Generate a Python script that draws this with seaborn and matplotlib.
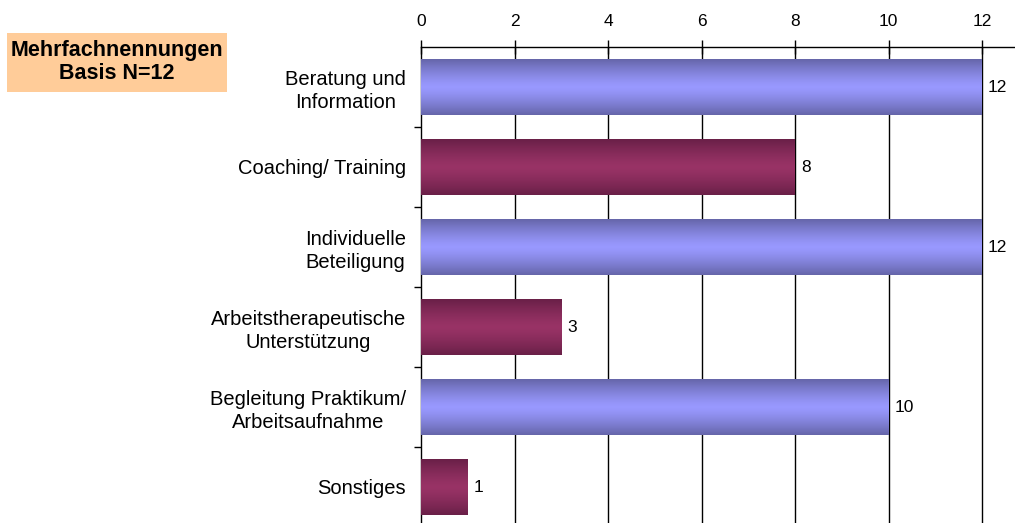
import numpy as np
import pandas as pd
import seaborn as sns
import matplotlib.pyplot as plt
from matplotlib.colors import to_rgb
from matplotlib.patches import Rectangle

# Daten aus dem Diagramm
kategorien = ['Beratung und\nInformation', 'Coaching/ Training', 'Individuelle\nBeteiligung',
              'Arbeitstherapeutische\nUnterstützung', 'Begleitung Praktikum/\nArbeitsaufnahme', 'Sonstiges']
werte = [12, 8, 12, 3, 10, 1]
x_ticks = [0, 2, 4, 6, 8, 10, 12]

# Farben: Rand dunkel, Mitte hell
farben_mitte = ['#9999ff', '#993366'] * 3
farben_rand = ['#6666aa', '#6a2048'] * 3

sns.set_style('white')
plt.rcParams['font.family'] = ['Liberation Sans', 'DejaVu Sans']
plt.rcParams['text.color'] = 'black'
plt.rcParams['xtick.color'] = 'black'
plt.rcParams['ytick.color'] = 'black'

df = pd.DataFrame({'kategorie': kategorien, 'wert': werte})

fig = plt.figure(figsize=(10.15, 5.23), dpi=100)
ax = fig.add_axes([421 / 1015, 0, 1 - 421 / 1015, 1 - 47 / 523])

sns.barplot(data=df, x='wert', y='kategorie', hue='kategorie', palette=farben_mitte,
            width=0.69, legend=False, orient='h', ax=ax, zorder=3, linewidth=0)

# Farbverlauf in jedem Balken
for patch, cm, cr in zip(ax.patches, farben_mitte, farben_rand):
    x0, y0 = patch.get_x(), patch.get_y()
    w, h = patch.get_width(), patch.get_height()
    t = np.linspace(0, 1, 64)
    f = 1 - np.abs(2 * t - 1) ** 1.3
    c_m, c_r = np.array(to_rgb(cm)), np.array(to_rgb(cr))
    grad = (c_r[None, :] + (c_m - c_r)[None, :] * f[:, None])[:, None, :]
    im = ax.imshow(grad, extent=[x0, x0 + w, y0 + h, y0], aspect='auto',
                   zorder=4, interpolation='bilinear')
    im.set_clip_path(patch)

for i, v in enumerate(werte):
    ax.text(v + 0.13, i, str(v), va='center', ha='left', fontsize=12.5, color='black', zorder=5)

ax.set_xlim(0, (1015 - 421) / 46.75)
ax.set_ylim(5.45, -0.5)
ax.set_xticks(x_ticks)
ax.xaxis.tick_top()
ax.tick_params(axis='x', direction='inout', length=10, width=1, color='black',
               labelsize=12.5, pad=8, top=True, bottom=False)
ax.tick_params(axis='y', which='major', length=0, labelsize=14.5, pad=11)
ax.set_yticks(np.arange(0.5, 5.5, 1), minor=True)
ax.tick_params(axis='y', which='minor', length=5, width=1, color='black', left=True)
ax.set_xlabel('')
ax.set_ylabel('')
for lbl in ax.get_yticklabels():
    lbl.set_multialignment('center')
    lbl.set_linespacing(1.3)

ax.grid(False)
for x in x_ticks[1:]:
    ax.axvline(x, color='black', linewidth=1, zorder=1)

for s in ['right', 'bottom']:
    ax.spines[s].set_visible(False)
for s in ['top', 'left']:
    ax.spines[s].set_color('black')
    ax.spines[s].set_linewidth(1)

# Hinweisbox oben links
fig.patches.append(Rectangle((7 / 1015, 1 - 92 / 523), 220 / 1015, 59 / 523,
                             transform=fig.transFigure, facecolor='#ffcc99', edgecolor='none'))
fig.text(117 / 1015, 1 - 62 / 523, 'Mehrfachnennungen\nBasis N=12', ha='center', va='center',
         fontsize=15.5, fontweight='bold', linespacing=1.15)

fig.savefig('out.png', dpi=100)
